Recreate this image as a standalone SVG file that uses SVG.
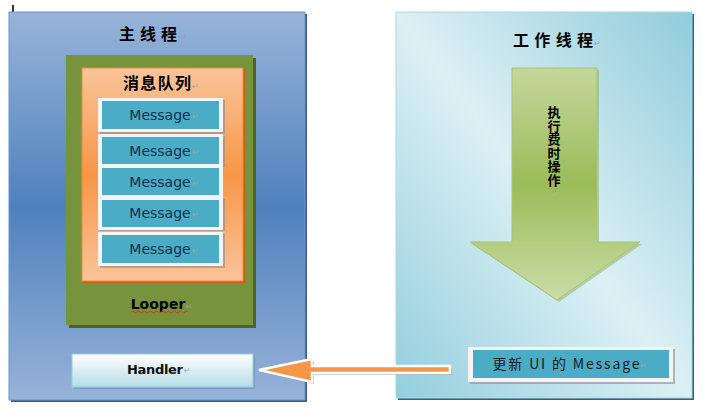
<svg xmlns="http://www.w3.org/2000/svg" width="702" height="413" viewBox="0 0 702 413">
<style>
.cjk{font-family:"Noto Sans CJK SC","DejaVu Sans",sans-serif;}
.lat{font-family:"DejaVu Sans","Noto Sans CJK SC",sans-serif;}
.ttl{font-size:16px;font-weight:bold;fill:#000;}
.msg{font-size:14px;fill:#10304f;}
.pm{font-family:"DejaVu Sans",sans-serif;font-size:8px;fill:#a0a0a0;}
.frame{fill:#f4f4f4;}
.fshadow{fill:#8c8c8c;opacity:0.6;}
.inner{fill:#4bacc6;}
</style>
<defs>
<linearGradient id="gLeft" x1="0" y1="0" x2="0" y2="1">
<stop offset="0" stop-color="#97b4d9"/>
<stop offset="0.5" stop-color="#4f81bd"/>
<stop offset="1" stop-color="#97b3d8"/>
</linearGradient>
<linearGradient id="gRight" x1="0" y1="1" x2="1" y2="0">
<stop offset="0" stop-color="#93cedd"/>
<stop offset="0.5" stop-color="#dcf0f5"/>
<stop offset="1" stop-color="#91ccdb"/>
</linearGradient>
<linearGradient id="gOrange" x1="0" y1="0" x2="0" y2="1">
<stop offset="0" stop-color="#fbc49a"/>
<stop offset="0.5" stop-color="#f79646"/>
<stop offset="1" stop-color="#fbc49a"/>
</linearGradient>
<linearGradient id="gGreen" gradientUnits="userSpaceOnUse" x1="0" y1="68" x2="0" y2="300">
<stop offset="0" stop-color="#c4d79b"/>
<stop offset="0.5" stop-color="#9bbb59"/>
<stop offset="1" stop-color="#cadda7"/>
</linearGradient>
<linearGradient id="gHandler" x1="0" y1="0" x2="0" y2="1">
<stop offset="0" stop-color="#ffffff"/>
<stop offset="1" stop-color="#b5dce6"/>
</linearGradient>
</defs>

<!-- text cursor mark -->
<rect x="12" y="5" width="2" height="16" fill="#333"/>

<g id="main-thread">
<rect x="11" y="14" width="296" height="388" fill="#385d8a"/>
<rect x="9" y="12" width="296" height="388" fill="url(#gLeft)" stroke="#6a93c8" stroke-width="1"/>
<text class="cjk ttl" x="148" y="40" text-anchor="middle" textLength="58" font-size="17">主线程</text>
<text class="pm" x="180" y="40">↵</text>
</g>

<g id="looper">
<rect x="69" y="58" width="187" height="270" fill="#4f6228"/>
<rect x="66" y="55" width="187" height="270" fill="#77933c"/>
<text class="lat" x="158" y="309" text-anchor="middle" font-size="14" font-weight="bold" fill="#000">Looper</text>
<text class="pm" x="186" y="309">↵</text>
<path d="M131 312 q1.5 -2 3 0 t3 0 t3 0 t3 0 t3 0 t3 0 t3 0 t3 0 t3 0 t3 0 t3 0 t3 0 t3 0 t3 0 t3 0 t3 0 t3 0 t3 0 t3 0" fill="none" stroke="#e02020" stroke-width="0.8"/>
</g>

<g id="message-queue">
<rect x="83" y="69" width="162" height="214" fill="#c5600e"/>
<rect x="82" y="68" width="161" height="213" fill="url(#gOrange)" stroke="#f08a3c" stroke-width="1"/>
<text class="cjk ttl" x="157" y="89" text-anchor="middle" textLength="68">消息队列</text>
<text class="pm" x="192" y="89">↵</text>
</g>

<g id="message-1">
<rect class="fshadow" x="100" y="100" width="125" height="34"/>
<rect class="frame" x="98" y="98" width="125" height="34"/>
<rect class="inner" x="102" y="101" width="117" height="28"/>
<text class="lat msg" x="160" y="120" text-anchor="middle">Message</text>
<text class="pm" x="192" y="119">↵</text>
</g>
<g id="message-2">
<rect class="fshadow" x="100" y="136" width="125" height="31"/>
<rect class="frame" x="98" y="134" width="125" height="32"/>
<rect class="inner" x="102" y="137" width="117" height="27"/>
<text class="lat msg" x="160" y="156" text-anchor="middle">Message</text>
<text class="pm" x="192" y="155">↵</text>
</g>
<g id="message-3">
<rect class="frame" x="98" y="165" width="125" height="33"/>
<rect class="inner" x="102" y="168" width="117" height="27"/>
<text class="lat msg" x="160" y="187" text-anchor="middle">Message</text>
<text class="pm" x="192" y="186">↵</text>
</g>
<g id="message-4">
<rect class="fshadow" x="100" y="199" width="125" height="32"/>
<rect class="frame" x="98" y="197" width="125" height="33"/>
<rect class="inner" x="102" y="200" width="117" height="27"/>
<text class="lat msg" x="160" y="218" text-anchor="middle">Message</text>
<text class="pm" x="192" y="217">↵</text>
</g>
<g id="message-5">
<rect class="fshadow" x="100" y="234" width="125" height="34"/>
<rect class="frame" x="98" y="232" width="125" height="34"/>
<rect class="inner" x="102" y="235" width="117" height="28"/>
<text class="lat msg" x="160" y="254" text-anchor="middle">Message</text>
<text class="pm" x="192" y="253">↵</text>
</g>

<g id="handler">
<rect x="74" y="356" width="181" height="33" fill="#6f98a8" opacity="0.6"/>
<rect x="72" y="354" width="181" height="33" fill="url(#gHandler)" stroke="#93cddd" stroke-width="1"/>
<text class="lat" x="155" y="374" text-anchor="middle" font-size="13" font-weight="bold" fill="#111" textLength="56">Handler</text>
<text class="pm" x="184" y="373">↵</text>
</g>

<g id="worker-thread">
<rect x="398" y="14" width="296" height="386" fill="#31627a"/>
<rect x="396" y="12" width="296" height="386" fill="url(#gRight)" stroke="#a9d8e4" stroke-width="1"/>
<text class="cjk ttl" x="553" y="46" text-anchor="middle" textLength="80">工作线程</text>
<text class="pm" x="594" y="46">↵</text>
</g>

<g id="long-task">
<path d="M514 70 H599 V244 H642 L559 302 L472 244 H514 Z" fill="#8aa653" opacity="0.45"/>
<path d="M512 68 H597 V242 H640 L557 300 L470 242 H512 Z" fill="url(#gGreen)" stroke="#a8c46e" stroke-width="1"/>
<text class="cjk" x="554" y="106" writing-mode="vertical-rl" font-size="13" font-weight="bold" fill="#000" letter-spacing="0.5">执行费时操作</text>
<text class="pm" x="551" y="194">↵</text>
</g>

<g id="update-ui-message">
<rect class="fshadow" x="470" y="349" width="205" height="35"/>
<rect class="frame" x="468" y="347" width="205" height="35"/>
<rect class="inner" x="473" y="350" width="196" height="28"/>
<text class="cjk" x="566" y="369" text-anchor="middle" font-size="14" fill="#1a1a1a" textLength="147">更新 UI 的 Message</text>
<text class="pm" x="640" y="368">↵</text>
</g>

<g id="connectors">
<path d="M261 372 L314 361 V368 H452 V375 H314 V384 Z" fill="#7f7f7f" opacity="0.5"/>
<path d="M259 370 L312 359 V366 H450 V373 H312 V382 Z" fill="#f79646" stroke="#ffffff" stroke-width="2.5" stroke-linejoin="miter"/>
</g>
</svg>
